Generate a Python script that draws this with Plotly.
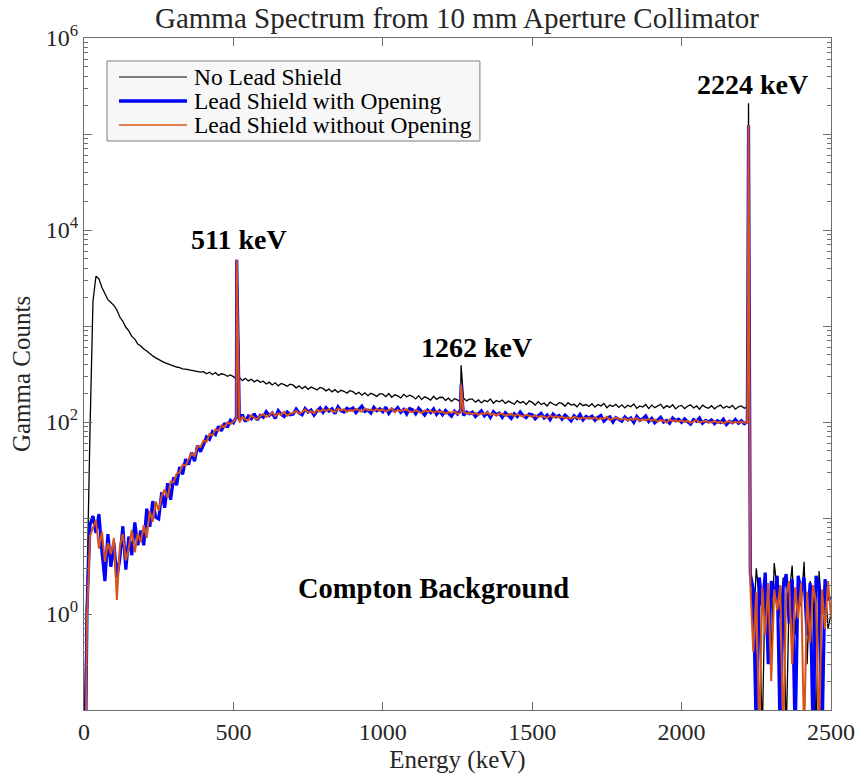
import plotly.graph_objects as go

# Channel energies (keV), 10 keV bins
energy_kev = list(range(0, 2501, 10))

# Counts (one row = 100 keV)
no_lead_shield = [
    0.05, 2.5, 80, 1800, 3300, 3100, 2520, 2180, 1880, 1760,
    1640, 1470, 1240, 1120, 970, 890, 780, 730, 650, 620,
    575, 548, 515, 488, 466, 445, 431, 415, 404, 389,
    384, 374, 369, 358, 355, 349, 346, 339, 337, 331,
    335, 318, 330, 312, 327, 306, 318, 312, 299, 309,
    297, 281, 292, 270, 285, 268, 279, 262, 274, 259,
    266, 249, 260, 243, 256, 238, 252, 245, 236, 248,
    242, 227, 238, 222, 235, 219, 231, 224, 216, 229,
    224, 211, 220, 206, 217, 203, 214, 209, 200, 212,
    207, 195, 204, 190, 201, 188, 199, 193, 185, 197,
    195, 184, 198, 181, 192, 187, 178, 194, 183, 190,
    184, 174, 188, 171, 183, 177, 169, 185, 172, 180,
    181, 168, 177, 164, 175, 170, 162, 178, 166, 173,
    173, 161, 170, 158, 168, 163, 174, 157, 167, 162,
    169, 156, 165, 160, 153, 167, 158, 163, 152, 166,
    160, 150, 163, 152, 158, 147, 161, 154, 149, 159,
    156, 146, 159, 150, 153, 144, 157, 148, 152, 145,
    155, 143, 152, 147, 156, 141, 150, 145, 153, 142,
    151, 140, 149, 144, 154, 139, 147, 143, 152, 138,
    150, 141, 147, 153, 139, 148, 142, 151, 137, 146,
    149, 138, 146, 151, 140, 147, 136, 150, 143, 139,
    148, 137, 145, 150, 139, 146, 141, 149, 136, 144,
    147, 139, 144, 2.2, 0.7, 3.0, 1.4, 0.05, 2.6, 1.1,
    0.4, 3.4, 1.8, 0.9, 2.4, 0.05, 1.6, 3.2, 0.6, 2.0,
    1.2, 3.5, 0.3, 2.2, 1.5, 0.05, 2.8, 1.0, 2.3, 0.7,
    1.0,
]

lead_with_opening = [
    0.001, 1.1, 8.5, 10.5, 7, 11, 4.5, 2.2, 6.8, 3.1,
    5.5, 2.4, 3.8, 8.2, 2.9, 6.4, 4.1, 9, 5.2, 7.4,
    5.2, 12.5, 8.1, 15, 10.2, 9.8, 18.5, 12.8, 23, 15.5,
    26.5, 22, 34, 28.5, 41, 36, 48, 39, 57, 49,
    58, 70, 66, 79, 74, 90, 81, 97, 88, 104,
    98, 112, 104, 119, 101, 115, 108, 122, 105, 117,
    112, 128, 117, 124, 109, 131, 120, 114, 127, 119,
    121, 136, 124, 119, 138, 127, 133, 118, 131, 140,
    126, 141, 130, 137, 122, 144, 131, 127, 139, 134,
    140, 125, 136, 146, 129, 133, 124, 142, 131, 137,
    128, 143, 123, 136, 130, 141, 126, 135, 121, 138,
    134, 122, 139, 127, 118, 133, 125, 137, 120, 131,
    119, 132, 124, 115, 130, 121, 134, 117, 127, 122,
    127, 114, 123, 131, 116, 125, 112, 128, 119, 124,
    112, 125, 117, 109, 122, 114, 127, 116, 111, 121,
    119, 108, 116, 123, 110, 118, 106, 121, 113, 117,
    107, 118, 111, 103, 116, 109, 120, 105, 114, 110,
    115, 104, 112, 117, 102, 109, 113, 100, 111, 106,
    102, 113, 105, 110, 99, 114, 104, 108, 116, 101,
    109, 98, 106, 112, 100, 104, 97, 110, 103, 107,
    99, 108, 101, 95, 106, 102, 110, 97, 104, 100,
    105, 96, 103, 99, 107, 94, 102, 98, 106, 97,
    103, 96, 101, 2.6, 1.8, 0.05, 2.4, 1.2, 2.7, 0.3,
    2.2, 1.5, 2.5, 0.05, 1.9, 2.6, 0.8, 2.3, 0.05, 2.5,
    1.7, 2.4, 0.6, 2.1, 0.05, 2.5, 1.9, 0.05, 2.3, 1.4,
    1.5,
]

lead_without_opening = [
    0.001, 0.9, 6.5, 8, 9.5, 4.8, 7.2, 3.5, 5.5, 4.2,
    6.2, 1.4, 5.1, 6.8, 3.6, 4.9, 7.5, 4.4, 6.9, 5.6,
    8.4, 6.2, 11.8, 9.1, 14.8, 11.9, 17, 19.8, 16.2, 24,
    23.5, 29, 30, 36, 35, 41, 47, 44, 56, 55,
    64, 62, 75, 72, 84, 81, 92, 88, 99, 95,
    102, 109, 99, 113, 106, 104, 118, 110, 107, 116,
    121, 113, 118, 126, 115, 123, 119, 128, 116, 122,
    124, 131, 122, 127, 135, 126, 130, 123, 134, 128,
    135, 129, 137, 131, 127, 138, 132, 136, 128, 133,
    130, 137, 133, 128, 139, 132, 135, 130, 137, 131,
    135, 129, 133, 138, 127, 134, 130, 132, 136, 128,
    127, 133, 129, 124, 132, 128, 131, 125, 130, 127,
    128, 122, 127, 124, 129, 121, 125, 128, 123, 124,
    120, 125, 118, 123, 121, 126, 119, 122, 117, 123,
    121, 116, 119, 122, 115, 120, 117, 114, 119, 116,
    113, 118, 112, 116, 114, 110, 117, 112, 115, 111,
    114, 109, 112, 108, 113, 111, 107, 112, 109, 111,
    108, 112, 106, 110, 108, 113, 105, 109, 111, 107,
    106, 109, 104, 108, 105, 110, 103, 107, 104, 108,
    103, 106, 101, 105, 103, 99, 106, 102, 104, 101,
    104, 100, 103, 98, 102, 105, 99, 101, 103, 100,
    99, 102, 98, 101, 97, 100, 102, 98, 100, 99,
    101, 98, 100, 2.0, 0.4, 1.7, 0.05, 1.9, 0.6, 2.1,
    0.2, 1.8, 1.1, 2.0, 0.05, 1.6, 2.2, 0.3, 1.9, 0.9,
    2.1, 0.05, 1.7, 0.5, 2.0, 1.3, 0.05, 1.8, 0.7, 2.2,
    0.93,
]

# Photo-peaks
peak_energy_kev = [511, 1262, 2224]
peak_no_lead = [4500, 390, 209000]
peak_with_opening = [4900, 245, 124000]
peak_without_opening = [4900, 245, 124000]

peak_labels = ["511 keV", "1262 keV", "2224 keV"]

series_names = ["No Lead Shield", "Lead Shield with Opening", "Lead Shield without Opening"]
series_colors = ["#000000", "#0000FF", "#D95319"]
series_widths = [1.3, 3.2, 2]
legend_widths = [1.2, 3.5, 1.5]

y_tick_vals = [0.1, 1, 10, 100, 1e3, 1e4, 1e5, 1e6]
y_tick_text = ["", "10<sup>0</sup>", "", "10<sup>2</sup>", "", "10<sup>4</sup>", "", "10<sup>6</sup>"]
x_tick_vals = [0, 500, 1000, 1500, 2000, 2500]


def merge(values, peaks):
    pts = sorted(list(zip(energy_kev, values)) + list(zip(peak_energy_kev, peaks)), key=lambda p: p[0])
    return [p[0] for p in pts], [p[1] for p in pts]


FONT = "Liberation Serif"

fig = go.Figure()
for name, vals, pk, color, width in zip(series_names,
                                        [no_lead_shield, lead_with_opening, lead_without_opening],
                                        [peak_no_lead, peak_with_opening, peak_without_opening],
                                        series_colors, series_widths):
    xs, ys = merge(vals, pk)
    fig.add_trace(go.Scatter(x=xs, y=ys, mode="lines", name=name, showlegend=False,
                             line=dict(color=color, width=width)))

minor_vals = [k * 10 ** n for n in range(-1, 6) for k in range(2, 10)]

axis_common = dict(showline=True, linecolor="#6e6e6e", linewidth=1, mirror="allticks",
                   ticks="inside", ticklen=8, tickcolor="#6e6e6e", showgrid=False, zeroline=False,
                   automargin=False,
                   tickfont=dict(family=FONT, size=24, color="#262626"))

fig.update_xaxes(range=[0, 2500], tickmode="array", tickvals=x_tick_vals,
                 title=dict(text="Energy (keV)", font=dict(family=FONT, size=25, color="#262626"), standoff=6),
                 **axis_common)
fig.update_yaxes(type="log", range=[-1, 6], tickmode="array", tickvals=y_tick_vals, ticktext=y_tick_text,
                 minor=dict(tickmode="array", tickvals=minor_vals, ticks="inside", ticklen=4,
                            tickcolor="#6e6e6e"),
                 title=dict(text="Gamma Counts", font=dict(family=FONT, size=25, color="#262626"), standoff=8),
                 **axis_common)

ann_pos = [(518, 3.896), (1315, 2.78), (2238, 5.52)]
for (ax_, ay_), txt in zip(ann_pos, peak_labels):
    fig.add_annotation(x=ax_, y=ay_, text="<b>" + txt + "</b>", showarrow=False,
                       font=dict(family=FONT, size=28, color="#000000"))
fig.add_annotation(x=1170, y=0.27, text="<b>Compton Background</b>", showarrow=False,
                   font=dict(family=FONT, size=28.5, color="#000000"))

# Legend drawn as a box with sample lines and text (paper coordinates of the plot area)
leg_box = dict(x0=0.0308, x1=0.530, y0=0.8467, y1=0.9658)
leg_line_x = (0.0469, 0.1379)
leg_text_x = 0.1446
leg_rows_y = [0.9420, 0.9063, 0.8705]
fig.add_shape(type="rect", xref="paper", yref="paper", **leg_box,
              line=dict(color="#7f7f7f", width=1), fillcolor="#f7f7f7", layer="above")
for name, color, width, yy in zip(series_names, series_colors, legend_widths, leg_rows_y):
    fig.add_shape(type="line", xref="paper", yref="paper", x0=leg_line_x[0], x1=leg_line_x[1],
                  y0=yy, y1=yy, line=dict(color=color, width=width), layer="above")
    fig.add_annotation(xref="paper", yref="paper", x=leg_text_x, y=yy, text=name, showarrow=False,
                       xanchor="left", yanchor="middle",
                       font=dict(family=FONT, size=23.5, color="#000000"))

fig.update_layout(
    width=859, height=778,
    margin=dict(l=84, r=28, t=38, b=68),
    paper_bgcolor="white", plot_bgcolor="white",
    title=dict(text="Gamma Spectrum from 10 mm Aperture Collimator", x=0.532, xanchor="center",
               y=0.977, yanchor="middle", font=dict(family=FONT, size=29, color="#262626")),
    showlegend=False,
)

fig.write_html("out.html")
